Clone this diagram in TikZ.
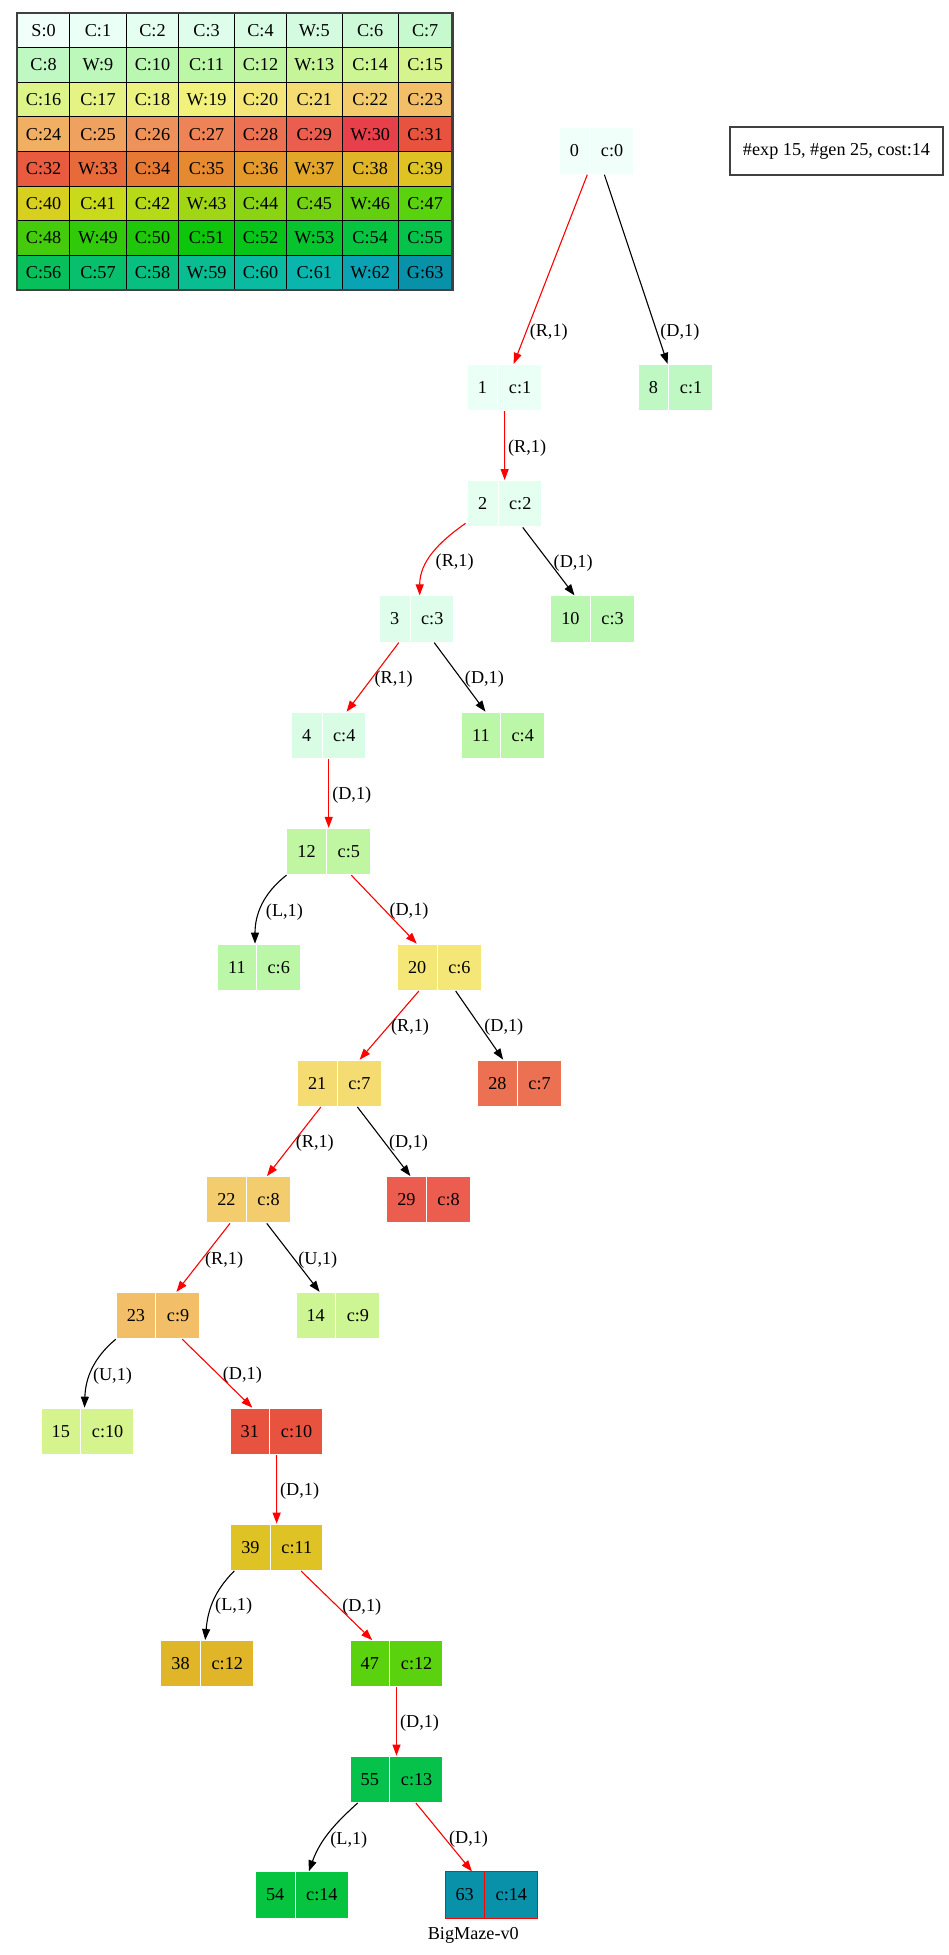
\documentclass[tikz,border=0pt]{standalone}
\usepackage{fontspec}
\setmainfont{Liberation Serif}
\usepackage{tikz}
\usetikzlibrary{arrows.meta,positioning,shapes.multipart}
\usepackage{xcolor}
\newcommand{\gvfont}{\fontsize{18.2pt}{22pt}\selectfont}
\definecolor{cell0}{HTML}{F0FFF9}
\definecolor{cell1}{HTML}{EAFFF5}
\definecolor{cell2}{HTML}{E4FEF0}
\definecolor{cell3}{HTML}{DEFDEA}
\definecolor{cell4}{HTML}{D9FCE5}
\definecolor{cell5}{HTML}{D4FBDF}
\definecolor{cell6}{HTML}{CDFAD6}
\definecolor{cell7}{HTML}{C6F9CD}
\definecolor{cell8}{HTML}{C0F8C4}
\definecolor{cell9}{HTML}{BCF8BA}
\definecolor{cell10}{HTML}{BAF7B1}
\definecolor{cell11}{HTML}{BCF7A8}
\definecolor{cell12}{HTML}{C0F6A1}
\definecolor{cell13}{HTML}{C6F599}
\definecolor{cell14}{HTML}{CDF593}
\definecolor{cell15}{HTML}{D5F48D}
\definecolor{cell16}{HTML}{DDF488}
\definecolor{cell17}{HTML}{E4F383}
\definecolor{cell18}{HTML}{EBF27F}
\definecolor{cell19}{HTML}{F2F17B}
\definecolor{cell20}{HTML}{F4E777}
\definecolor{cell21}{HTML}{F4DB72}
\definecolor{cell22}{HTML}{F3CD6D}
\definecolor{cell23}{HTML}{F2BE68}
\definecolor{cell24}{HTML}{F0AF63}
\definecolor{cell25}{HTML}{EFA15F}
\definecolor{cell26}{HTML}{EE925B}
\definecolor{cell27}{HTML}{ED8357}
\definecolor{cell28}{HTML}{EC7153}
\definecolor{cell29}{HTML}{EB5D4E}
\definecolor{cell30}{HTML}{E8404A}
\definecolor{cell31}{HTML}{E8533F}
\definecolor{cell32}{HTML}{E95B3E}
\definecolor{cell33}{HTML}{E8693A}
\definecolor{cell34}{HTML}{E67A35}
\definecolor{cell35}{HTML}{E58A30}
\definecolor{cell36}{HTML}{E4992C}
\definecolor{cell37}{HTML}{E2A728}
\definecolor{cell38}{HTML}{E1B528}
\definecolor{cell39}{HTML}{DFC324}
\definecolor{cell40}{HTML}{D7D01E}
\definecolor{cell41}{HTML}{C9D91C}
\definecolor{cell42}{HTML}{B6DA18}
\definecolor{cell43}{HTML}{A1D616}
\definecolor{cell44}{HTML}{8BD414}
\definecolor{cell45}{HTML}{75D112}
\definecolor{cell46}{HTML}{63CF10}
\definecolor{cell47}{HTML}{5AD30E}
\definecolor{cell48}{HTML}{44CC0C}
\definecolor{cell49}{HTML}{31CA0B}
\definecolor{cell50}{HTML}{1FC70A}
\definecolor{cell51}{HTML}{0DC50A}
\definecolor{cell52}{HTML}{06C41A}
\definecolor{cell53}{HTML}{06C32E}
\definecolor{cell54}{HTML}{06C43F}
\definecolor{cell55}{HTML}{06C24A}
\definecolor{cell56}{HTML}{07C05C}
\definecolor{cell57}{HTML}{08BF6E}
\definecolor{cell58}{HTML}{08BE80}
\definecolor{cell59}{HTML}{09BC92}
\definecolor{cell60}{HTML}{0ABBA2}
\definecolor{cell61}{HTML}{0AB5AE}
\definecolor{cell62}{HTML}{0AA3B4}
\definecolor{cell63}{HTML}{0A91AA}
\tikzset{
  statebox/.style={rectangle split, rectangle split horizontal, rectangle split parts=2, draw=white, line width=1pt, inner xsep=10.5pt, inner ysep=17pt, font=\gvfont},
  cell/.style={draw=black, line width=0.9pt, anchor=north west, inner sep=0pt, font=\gvfont},
  infobox/.style={draw=black!75, line width=1.4pt, minimum width=213pt, minimum height=48pt, font=\gvfont},
  arrow/.style={-{Triangle[length=11pt,width=8pt]}, line width=1.1pt, draw=black},
  patharrow/.style={arrow, draw=red},
  lbl/.style={pos=0.53, anchor=west, inner sep=3pt, font=\gvfont, text=black}
}
\begin{document}
\begin{tikzpicture}[x=1pt, y=1pt]
\useasboundingbox (0,0) rectangle (949,-1955);
\def\colx{{17,69.3,125.7,178.3,234,286,341.7,397.7,451.7}}
\foreach \i/\t in {0/S,1/C,2/C,3/C,4/C,5/W,6/C,7/C,8/C,9/W,10/C,11/C,12/C,13/W,14/C,15/C,16/C,17/C,18/C,19/W,20/C,21/C,22/C,23/C,24/C,25/C,26/C,27/C,28/C,29/C,30/W,31/C,32/C,33/W,34/C,35/C,36/C,37/W,38/C,39/C,40/C,41/C,42/C,43/W,44/C,45/C,46/W,47/C,48/C,49/W,50/C,51/C,52/C,53/W,54/C,55/C,56/C,57/C,58/C,59/W,60/C,61/C,62/W,63/G} {
  \pgfmathtruncatemacro\r{int(\i/8)}
  \pgfmathtruncatemacro\c{mod(\i,8)}
  \pgfmathsetmacro\xa{\colx[\c]}
  \pgfmathsetmacro\xb{\colx[\c+1]}
  \pgfmathsetmacro\ya{12.7+34.575*\r}
  \node[cell, fill=cell\i, minimum width=\xb-\xa, minimum height=34.6] (t\i) at (\xa,-\ya) {\t:\i};
}
\draw[black!75, line width=2.4pt] (t0.north west) rectangle (t63.south east);

\node[infobox] (info) at (836.5,-151) {\#exp 15, \#gen 25, cost:14};

\node[statebox, fill=cell0] (n0) at (596.5,-151) {0\nodepart{two}c:0};
\node[statebox, fill=cell1] (n1) at (504.5,-387.5) {1\nodepart{two}c:1};
\node[statebox, fill=cell8] (n8) at (675.5,-387.5) {8\nodepart{two}c:1};
\node[statebox, fill=cell2] (n2) at (504.7,-503.7) {2\nodepart{two}c:2};
\node[statebox, fill=cell3] (n3) at (416.7,-619) {3\nodepart{two}c:3};
\node[statebox, fill=cell10] (n10) at (592.5,-619) {10\nodepart{two}c:3};
\node[statebox, fill=cell4] (n4) at (328.7,-735.3) {4\nodepart{two}c:4};
\node[statebox, fill=cell11] (n11a) at (503,-735.3) {11\nodepart{two}c:4};
\node[statebox, fill=cell12] (n12) at (328.7,-851.5) {12\nodepart{two}c:5};
\node[statebox, fill=cell11] (n11b) at (259,-967.3) {11\nodepart{two}c:6};
\node[statebox, fill=cell20] (n20) at (439.3,-967.3) {20\nodepart{two}c:6};
\node[statebox, fill=cell21] (n21) at (339.3,-1083.3) {21\nodepart{two}c:7};
\node[statebox, fill=cell28] (n28) at (519.5,-1083.3) {28\nodepart{two}c:7};
\node[statebox, fill=cell22] (n22) at (248.5,-1199.7) {22\nodepart{two}c:8};
\node[statebox, fill=cell29] (n29) at (428.5,-1199.7) {29\nodepart{two}c:8};
\node[statebox, fill=cell23] (n23) at (158,-1315.5) {23\nodepart{two}c:9};
\node[statebox, fill=cell14] (n14) at (337.8,-1315.5) {14\nodepart{two}c:9};
\node[statebox, fill=cell15] (n15) at (87.5,-1431.3) {15\nodepart{two}c:10};
\node[statebox, fill=cell31] (n31) at (276.5,-1431.3) {31\nodepart{two}c:10};
\node[statebox, fill=cell39] (n39) at (276.7,-1547.3) {39\nodepart{two}c:11};
\node[statebox, fill=cell38] (n38) at (207.2,-1663.7) {38\nodepart{two}c:12};
\node[statebox, fill=cell47] (n47) at (396.5,-1663.7) {47\nodepart{two}c:12};
\node[statebox, fill=cell55] (n55) at (396.5,-1779.3) {55\nodepart{two}c:13};
\node[statebox, fill=cell54] (n54) at (301.8,-1895) {54\nodepart{two}c:14};
\node[statebox, fill=cell63, draw=red] (n63) at (491.3,-1895) {63\nodepart{two}c:14};
\node[font=\gvfont] (title) at (473.3,-1935) {BigMaze-v0};

\draw[patharrow] (n0) -- node[lbl, pos=0.83] {(R,1)} (n1);
\draw[arrow] (n0) -- node[lbl, pos=0.83] {(D,1)} (n8);
\draw[patharrow] (n1) -- node[lbl] {(R,1)} (n2);
\draw[patharrow] ([xshift=-1.5pt,yshift=4pt]n2.south west) to[out=-145,in=90] node[lbl, pos=0.62, xshift=5pt] {(R,1)} ([xshift=3pt]n3.north);
\draw[arrow] (n2) -- node[lbl] {(D,1)} (n10);
\draw[patharrow] (n3) -- node[lbl] {(R,1)} (n4);
\draw[arrow] (n3) -- node[lbl] {(D,1)} (n11a);
\draw[patharrow] (n4) -- node[lbl] {(D,1)} (n12);
\draw[arrow] (n12.south west) to[out=-142,in=90] node[lbl, pos=0.6, xshift=3pt] {(L,1)} ([xshift=-4pt]n11b.north);
\draw[patharrow] (n12) -- node[lbl] {(D,1)} (n20);
\draw[patharrow] (n20) -- node[lbl] {(R,1)} (n21);
\draw[arrow] (n20) -- node[lbl] {(D,1)} (n28);
\draw[patharrow] (n21) -- node[lbl] {(R,1)} (n22);
\draw[arrow] (n21) -- node[lbl] {(D,1)} (n29);
\draw[patharrow] (n22) -- node[lbl] {(R,1)} (n23);
\draw[arrow] (n22) -- node[lbl] {(U,1)} (n14);
\draw[arrow] (n23.south west) to[out=-140,in=88] node[lbl, pos=0.6] {(U,1)} ([xshift=-3pt]n15.north);
\draw[patharrow] (n23) -- node[lbl] {(D,1)} (n31);
\draw[patharrow] (n31) -- node[lbl] {(D,1)} (n39);
\draw[arrow] ([xshift=4pt]n39.south west) to[out=-135,in=85] node[lbl, pos=0.55] {(L,1)} ([xshift=-2pt]n38.north);
\draw[patharrow] (n39) -- node[lbl] {(D,1)} (n47);
\draw[patharrow] (n47) -- node[lbl] {(D,1)} (n55);
\draw[arrow] ([xshift=8pt]n55.south west) to[out=-138,in=70] node[lbl, pos=0.6, xshift=3pt] {(L,1)} ([xshift=7pt]n54.north);
\draw[patharrow] (n55) -- node[lbl] {(D,1)} (n63);
\end{tikzpicture}
\end{document}
